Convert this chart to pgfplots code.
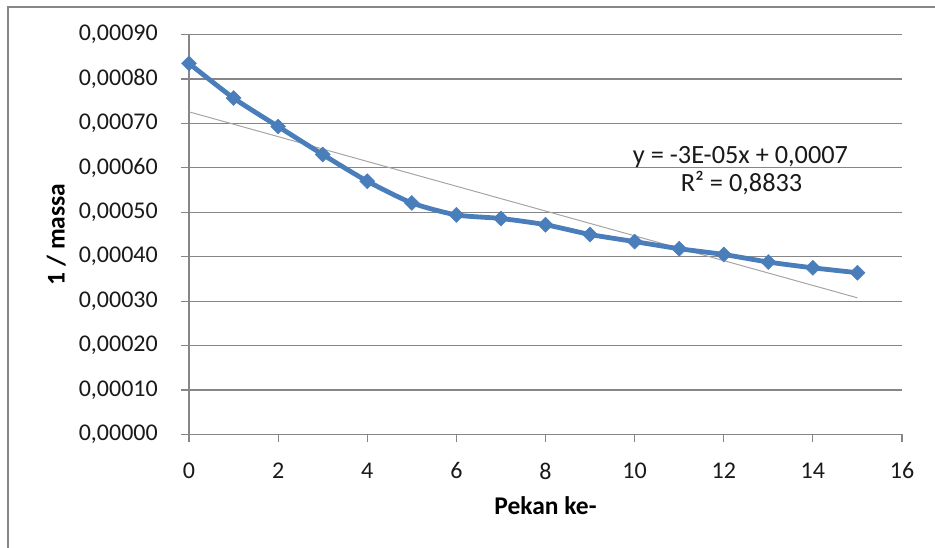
\documentclass[border=0pt]{standalone}
\usepackage{pgfplots}
\pgfplotsset{compat=1.18}
\usepackage{fontspec}
\setmainfont{Carlito}

\definecolor{serie}{RGB}{74,126,187}
\definecolor{kisi}{RGB}{134,134,134}
\definecolor{tren}{RGB}{165,165,165}
\definecolor{bingkai}{RGB}{135,135,135}

\begin{document}
\fontsize{24}{28}\selectfont
\begin{tikzpicture}[x=1pt,y=1pt]
\useasboundingbox (0,0) rectangle (935,548);
% chart frame (only left and top edges are visible in the crop)
\draw[bingkai, line width=2pt] (8,-5) -- (8,540.5) -- (940,540.5);

\begin{axis}[
  at={(189pt,113.5pt)}, anchor=south west,
  scale only axis,
  width=713pt, height=400pt,
  xmin=0, xmax=16, ymin=0, ymax=0.0009,
  xtick={0,2,4,6,8,10,12,14,16},
  ytick={0,0.0001,0.0002,0.0003,0.0004,0.0005,0.0006,0.0007,0.0008,0.0009},
  scaled y ticks=false,
  yticklabel style={xshift=-15pt, text=black!90,
    /pgf/number format/fixed, /pgf/number format/fixed zerofill,
    /pgf/number format/precision=5, /pgf/number format/use comma,
    /pgf/number format/assume math mode=true},
  xticklabel style={yshift=-12pt, text=black!90, /pgf/number format/assume math mode=true},
  tick align=outside,
  major tick length=8pt,
  tick style={kisi, line width=1.2pt},
  ymajorgrids,
  grid style={kisi, line width=1.2pt},
  axis line style={kisi, line width=1.2pt},
  axis x line*=bottom, axis y line*=left,
  separate axis lines,
  every outer x axis line/.append style={-},
  every outer y axis line/.append style={-},
  xlabel={\fontsize{25.5}{30}\selectfont\textbf{Pekan ke-}},
  ylabel={\fontsize{25.5}{30}\selectfont\textbf{1 / massa}},
  every axis x label/.style={at={(axis description cs:0.5,-0.201)}, anchor=base},
  every axis y label/.style={at={(axis description cs:-0.186,0.5)}, rotate=90, anchor=center},
  clip=false,
]

% linear trendline (endpoints)
\addplot[tren, line width=1pt] coordinates {(0,0.000726) (15,0.0003075)};

\addplot[serie, line width=4.8pt, smooth, tension=0.4,
  mark=square*, mark size=5.3pt, mark options={rotate=45, solid, fill=serie, line width=0.5pt}]
  coordinates {
  (0,0.000835) (1,0.000757) (2,0.000693) (3,0.000630) (4,0.000570)
  (5,0.000521) (6,0.000494) (7,0.000486) (8,0.000472) (9,0.000450)
  (10,0.000434) (11,0.000418) (12,0.000405) (13,0.000388) (14,0.000375)
  (15,0.000364)
  };

\node[anchor=base, text=black!90, font=\fontsize{26.3}{30}\selectfont] at (axis cs:12.376,0.0006102) {y = -3E-05x + 0,0007};
\node[anchor=base, text=black!90, font=\fontsize{26.3}{30}\selectfont] at (axis cs:12.40,0.0005463) {R² = 0,8833};
\end{axis}
\end{tikzpicture}
\end{document}
